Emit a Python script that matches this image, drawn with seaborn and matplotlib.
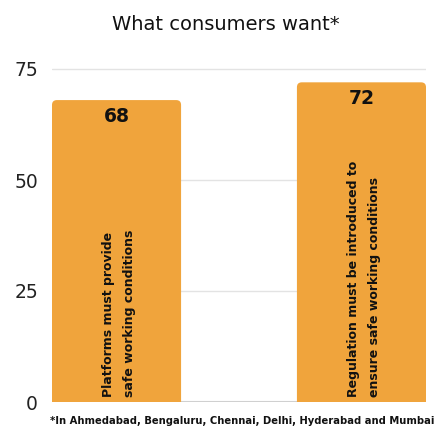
import matplotlib
matplotlib.use("Agg")
import matplotlib.pyplot as plt
from matplotlib.patches import FancyBboxPatch
import seaborn as sns
import pandas as pd

categories = ["Platforms must provide\nsafe working conditions",
              "Regulation must be introduced to\nensure safe working conditions"]
values = [68, 72]
yticks = [0, 25, 50, 75]
title = "What consumers want*"
footnote = "*In Ahmedabad, Bengaluru, Chennai, Delhi, Hyderabad and Mumbai"

df = pd.DataFrame({"cat": categories, "val": values})

sns.set_theme(style="white")
plt.rcParams['font.family'] = ['DejaVu Sans']

fig = plt.figure(figsize=(4.48, 4.28), dpi=100)
ax = fig.add_axes([52/448, 1 - 402/428, 374/448, (402 - 64)/428])

bar_color = "#F0A43C"
sns.barplot(data=df, x="cat", y="val", color=bar_color, width=0.527,
            saturation=1, ax=ax, zorder=2)
ax.set_xlim(-0.2635, 1.2635)
ax.set_ylim(0, 75 * (338 / 333))

# round top corners of the bars
for p in list(ax.patches):
    x0, y0 = p.get_x(), p.get_y()
    w, h = p.get_width(), p.get_height()
    p.set_visible(False)
    fb = FancyBboxPatch((x0, y0 - 5), w, h + 5,
                        boxstyle="round,pad=0,rounding_size=0.02",
                        mutation_aspect=55, facecolor=bar_color,
                        edgecolor="none", zorder=2)
    ax.add_patch(fb)

ax.set_yticks(yticks)
ax.set_yticklabels([str(t) for t in yticks], fontsize=13.5, color="#222222")
ax.tick_params(axis="y", length=0, pad=10)
ax.set_xticks([])
ax.set_xlabel("")
ax.set_ylabel("")
for s in ax.spines.values():
    s.set_visible(False)
for t in yticks:
    ax.axhline(t, color="#e3e3e3" if t else "#d0d0d0", lw=1 if t else 1.5, zorder=1)

for i, (c, v) in enumerate(zip(categories, values)):
    ax.text(i, v - 3.6, str(v), ha="center", va="center", fontsize=13.5,
            fontweight="bold", color="#111111", zorder=3)
    ax.text(i + 0.01, 1.2, c, ha="center", va="bottom", rotation=90, fontsize=9,
            fontweight="bold", color="#111111",
            linespacing=1.75, zorder=3, multialignment="left")

fig.text(226/448, 1 - 24/428, title, ha="center", va="center", fontsize=14,
         color="#111111")
fig.text(50/448, 1 - 421/428, footnote, ha="left", va="center", fontsize=7.2,
         fontweight="bold", color="#111111")

fig.savefig("out.png", dpi=100)
